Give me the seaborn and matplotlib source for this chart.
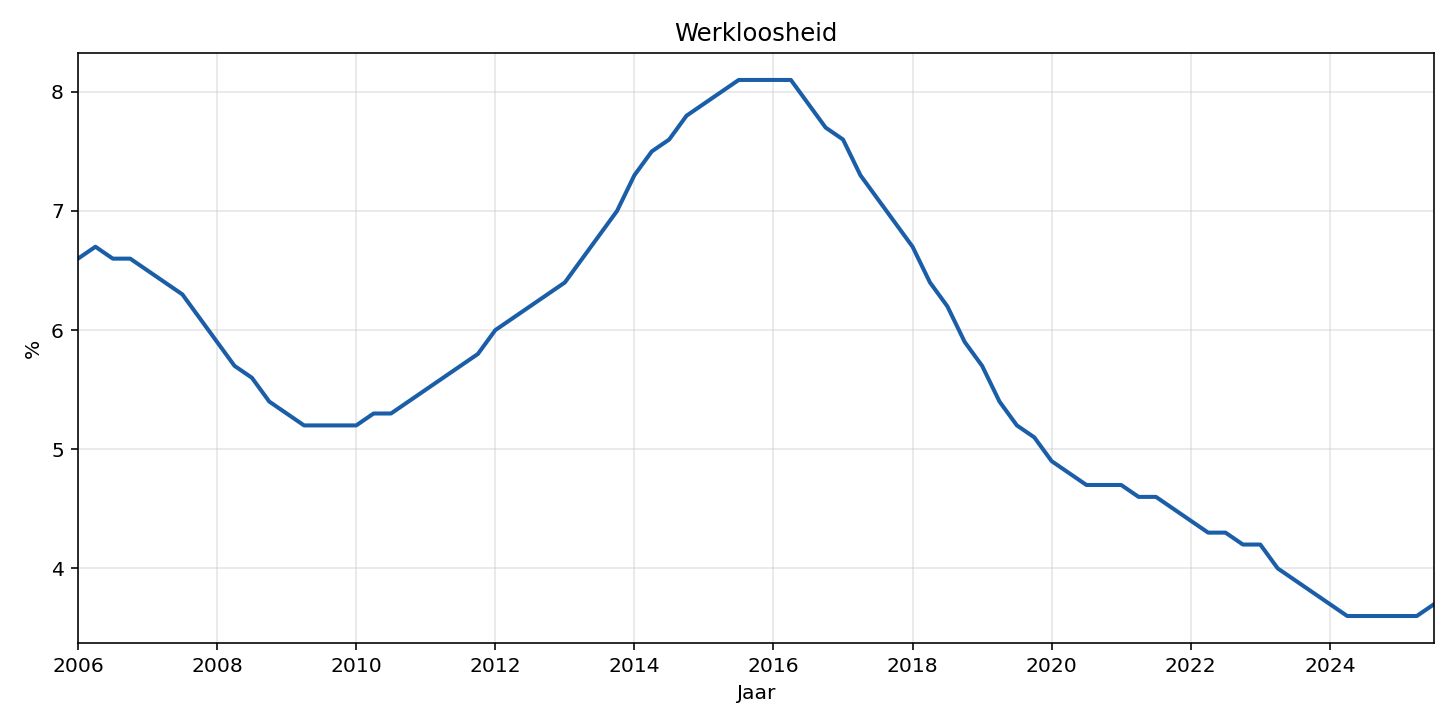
import numpy as np
import pandas as pd
import matplotlib
matplotlib.use("Agg")
import matplotlib.pyplot as plt
import seaborn as sns

# Quarterly time axis (year fractions)
years = [2006 + 0.25 * i for i in range(79)]
werkloosheid = [
    6.6, 6.7, 6.6, 6.6,   # 2006
    6.5, 6.4, 6.3, 6.1,   # 2007
    5.9, 5.7, 5.6, 5.4,   # 2008
    5.3, 5.2, 5.2, 5.2,   # 2009
    5.2, 5.3, 5.3, 5.4,   # 2010
    5.5, 5.6, 5.7, 5.8,   # 2011
    6.0, 6.1, 6.2, 6.3,   # 2012
    6.4, 6.6, 6.8, 7.0,   # 2013
    7.3, 7.5, 7.6, 7.8,   # 2014
    7.9, 8.0, 8.1, 8.1,   # 2015
    8.1, 8.1, 7.9, 7.7,   # 2016
    7.6, 7.3, 7.1, 6.9,   # 2017
    6.7, 6.4, 6.2, 5.9,   # 2018
    5.7, 5.4, 5.2, 5.1,   # 2019
    4.9, 4.8, 4.7, 4.7,   # 2020
    4.7, 4.6, 4.6, 4.5,   # 2021
    4.4, 4.3, 4.3, 4.2,   # 2022
    4.2, 4.0, 3.9, 3.8,   # 2023
    3.7, 3.6, 3.6, 3.6,   # 2024
    3.6, 3.6, 3.7,        # 2025
]

df = pd.DataFrame({"Jaar": years, "%": werkloosheid})

sns.set_style("white")
plt.rcParams['font.family'] = ['DejaVu Sans']
plt.rcParams.update({
    "text.color": "black",
    "axes.labelcolor": "black",
    "xtick.color": "black",
    "ytick.color": "black",
    "axes.edgecolor": "black",
})

fig, ax = plt.subplots(figsize=(10, 5), dpi=145.6)
fig.subplots_adjust(left=0.0536, right=0.985, top=0.927, bottom=0.117)

sns.lineplot(data=df, x="Jaar", y="%", ax=ax, color="#1b5ea8", linewidth=2)

ax.set_xlim(2006, 2025.5)
ax.set_xticks(range(2006, 2025, 2))
ax.set_yticks([4, 5, 6, 7, 8])
ax.grid(True, color="#cccccc", alpha=0.5, linewidth=0.8)
ax.set_title("Werkloosheid", fontsize=12, color="black")
ax.set_xlabel("Jaar", fontsize=10)
ax.set_ylabel("%", fontsize=10)
ax.tick_params(axis="both", which="both", direction="out", length=3.5, width=0.8,
               bottom=True, left=True, labelsize=10, color="black", labelcolor="black")
for s in ax.spines.values():
    s.set_color("black")
    s.set_linewidth(0.8)

fig.savefig("out.png", dpi=145.6, facecolor="white")
